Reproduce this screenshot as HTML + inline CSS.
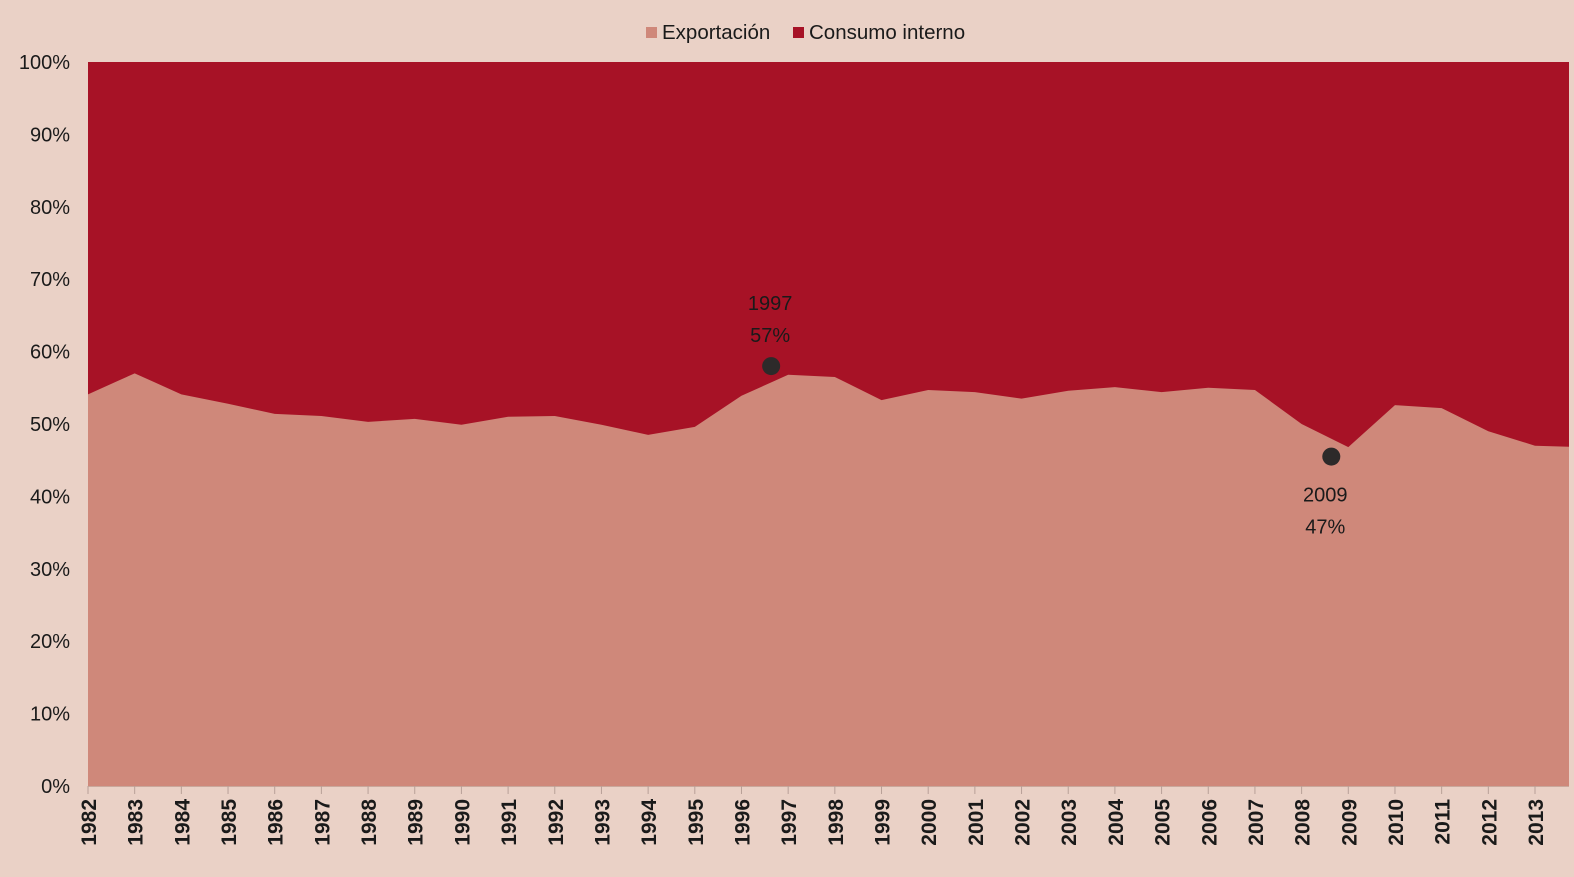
<!DOCTYPE html>
<html><head><meta charset="utf-8"><style>
html,body{margin:0;padding:0;background:#ead1c6;}
svg{display:block;font-family:"Liberation Sans",Arial,sans-serif;}
</style></head><body>
<svg id="chart" width="1574" height="877" viewBox="0 0 1574 877">
<rect x="0" y="0" width="1574" height="877" fill="#ead1c6"/>
<g id="legend">
<g><rect x="646" y="27" width="11" height="11" fill="#cf887a"/><text x="662" y="39" font-size="20.5" fill="#1a1a1a">Exportación</text></g>
<g><rect x="793" y="27" width="11" height="11" fill="#a71226"/><text x="809" y="39" font-size="20.5" fill="#1a1a1a">Consumo interno</text></g>
</g>
<g id="plot"></g>
<g id="yaxis"></g>
<g id="xaxis"></g>
<g id="ann"></g>
</svg>
<script>
const years = ["1982","1983","1984","1985","1986","1987","1988","1989","1990","1991","1992","1993","1994","1995","1996","1997","1998","1999","2000","2001","2002","2003","2004","2005","2006","2007","2008","2009","2010","2011","2012","2013","2014"];
const exportShare = [54.1,57.0,54.1,52.8,51.4,51.1,50.3,50.7,49.9,51.0,51.1,49.9,48.5,49.6,53.9,56.8,56.5,53.3,54.7,54.4,53.5,54.6,55.1,54.4,55.0,54.7,50.0,46.8,52.6,52.2,49.0,47.0,46.8];
const yTicks = [0,10,20,30,40,50,60,70,80,90,100];
const annYears = [1997,2009];
const annLabels = [["1997","57%"],["2009","47%"]];
const annValues = [58,45.5];
const annBelow = [false,true];

const NS="http://www.w3.org/2000/svg";
const X0=88, STEP=(1535-88)/31, RIGHT=1569, Y0=786, YH=724;
const xs=i=>X0+i*STEP;
const xYear=y=>X0+(y-1982)*STEP;
const ys=v=>Y0-v/100*YH;
function mk(tag,attrs,parent){const e=document.createElementNS(NS,tag);for(const k in attrs)e.setAttribute(k,attrs[k]);parent.appendChild(e);return e;}
const plot=document.getElementById('plot');
const clip=mk('clipPath',{id:'clip'},document.getElementById('chart'));
mk('rect',{x:X0,y:ys(100),width:RIGHT-X0,height:YH},clip);
plot.setAttribute('clip-path','url(#clip)');
const bg=mk('rect',{x:X0,y:ys(100),width:RIGHT-X0,height:YH,fill:'#a71226'},plot);


let d='M'+xs(0)+','+Y0;
exportShare.forEach((v,i)=>{d+=' L'+xs(i).toFixed(2)+','+ys(v).toFixed(2);});
d+=' L'+xs(exportShare.length-1).toFixed(2)+','+Y0+' Z';
const area=mk('path',{d:d,fill:'#cf887a'},plot);



const ya=document.getElementById('yaxis');
yTicks.forEach(t=>{
 const tx=mk('text',{x:70,y:ys(t)+7,'font-size':20,'text-anchor':'end',fill:'#1a1a1a'},ya);
 tx.textContent=t+'%';
 
 
});
const xa=document.getElementById('xaxis');
mk('line',{x1:X0,x2:RIGHT,y1:Y0+0.5,y2:Y0+0.5,stroke:'#c9a89c','stroke-width':1},xa);
years.slice(0,32).forEach((y,i)=>{
 const x=xs(i);
 mk('line',{x1:x,x2:x,y1:Y0,y2:Y0+8,stroke:'#b8a098','stroke-width':1},xa);
 const tx=mk('text',{x:0,y:0,'font-size':21,'font-weight':'bold','text-anchor':'end',fill:'#1a1a1a',transform:`translate(${x+8},${Y0+13}) rotate(-90)`},xa);
 tx.textContent=y;
 
 
});
const an=document.getElementById('ann');
annYears.forEach((yr,i)=>{
 const x=xYear(yr)-17, y=ys(annValues[i]);
 const c=mk('circle',{cx:x,cy:y,r:9,fill:'#2d2a2a'},an);
 
 
 const base=annBelow[i]?y+45:y-56;
 annLabels[i].forEach((s,j)=>{
  const t=mk('text',{x:annBelow[i]?x-6:x-1,y:base+j*32,'font-size':20,'text-anchor':'middle',fill:'#1a1a1a'},an);
  t.textContent=s;
  
  
 });
});
</script>
</body></html>
